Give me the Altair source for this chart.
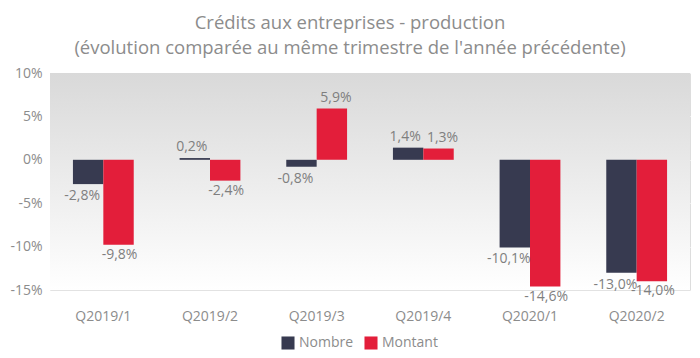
import altair as alt
import pandas as pd

quarters = ["Q2019/1", "Q2019/2", "Q2019/3", "Q2019/4", "Q2020/1", "Q2020/2"]
series = ["Nombre", "Montant"]
nombre = [-2.8, 0.2, -0.8, 1.4, -10.1, -13.0]
montant = [-9.8, -2.4, 5.9, 1.3, -14.6, -14.0]
colors = ["#373a50", "#e31e3a"]

rows = []
for q, n, m in zip(quarters, nombre, montant):
    for s, v in (("Nombre", n), ("Montant", m)):
        rows.append({"quarter": q, "serie": s, "value": v,
                     "label": f"{v:.1f}%".replace(".", ",")})
df = pd.DataFrame(rows)

W, H = 640, 217
FONT = "Open Sans"
LABEL_GREY = "#8c8c8c"

yscale = alt.Scale(domain=[-15, 10], nice=False, zero=False)
yaxis = alt.Axis(title=None, values=[-15, -10, -5, 0, 5, 10],
                 labelExpr="datum.value + '%'", labelFontSize=14,
                 labelColor=LABEL_GREY, labelFont=FONT, ticks=False,
                 domain=False, labelPadding=8, grid=True, gridColor="#ffffff",
                 gridWidth=1)
xscale = alt.Scale(paddingInner=0.43, paddingOuter=0.215)
xaxis = alt.Axis(title=None, labelAngle=0, labelFontSize=14, labelColor=LABEL_GREY,
                 labelFont=FONT, ticks=False, labelPadding=19, grid=True,
                 gridColor="#ffffff", gridWidth=1, bandPosition=0.5,
                 domainColor="#e2e2e2", domainWidth=1)

bg = alt.Chart(pd.DataFrame({"a": [10], "b": [-15]})).mark_rect(
    color=alt.LinearGradient(gradient="linear",
                             stops=[alt.GradientStop(color="#d9d9d9", offset=0),
                                    alt.GradientStop(color="#ffffff", offset=1)],
                             x1=0, x2=0, y1=0, y2=1)
).encode(x=alt.value(0), x2=alt.value(W),
         y=alt.Y("a:Q", scale=yscale, axis=yaxis), y2="b:Q")

bars = alt.Chart(df).mark_bar().encode(
    x=alt.X("quarter:N", sort=quarters, scale=xscale, axis=xaxis),
    xOffset=alt.XOffset("serie:N", sort=series),
    y=alt.Y("value:Q", scale=yscale, axis=yaxis),
    y2=alt.datum(0),
    color=alt.Color("serie:N", sort=series,
                    scale=alt.Scale(domain=series, range=colors),
                    legend=alt.Legend(title=None, orient="none", direction="horizontal",
                                      legendX=231, legendY=263, symbolType="square",
                                      symbolSize=170, symbolStrokeWidth=0,
                                      labelFontSize=14, labelColor=LABEL_GREY,
                                      labelFont=FONT, columnPadding=10, symbolOffset=0)),
)


def labels(serie, positive, dx, dy):
    cond = f"datum.serie == '{serie}' && datum.value {'>=' if positive else '<'} 0"
    return alt.Chart(df).transform_filter(cond).mark_text(
        baseline="bottom" if positive else "top", dy=dy, dx=dx,
        fontSize=14, color="#7f7f7f", font=FONT
    ).encode(
        x=alt.X("quarter:N", sort=quarters),
        xOffset=alt.XOffset("serie:N", sort=series),
        y=alt.Y("value:Q", scale=yscale),
        text="label:N",
    )


chart = alt.layer(
    bg, bars,
    labels("Nombre", True, -3, -4), labels("Nombre", False, -6, 5),
    labels("Montant", True, 4, -4), labels("Montant", False, 1, 3),
).properties(
    width=W, height=H,
    title=alt.TitleParams(
        text=["Crédits aux entreprises - production",
              "(évolution comparée au même trimestre de l'année précédente)"],
        fontSize=18.5, font=FONT, color="#8c8c8c", fontWeight="normal",
        anchor="middle", offset=9, lineHeight=25, dx=-20),
    padding={"left": 42, "top": 65, "right": 2, "bottom": 60},
    autosize=alt.AutoSizeParams(type="none"),
).configure_view(stroke=None).configure(background="#ffffff")

chart.save("out.html", embed_options={"renderer": "svg", "actions": False})
